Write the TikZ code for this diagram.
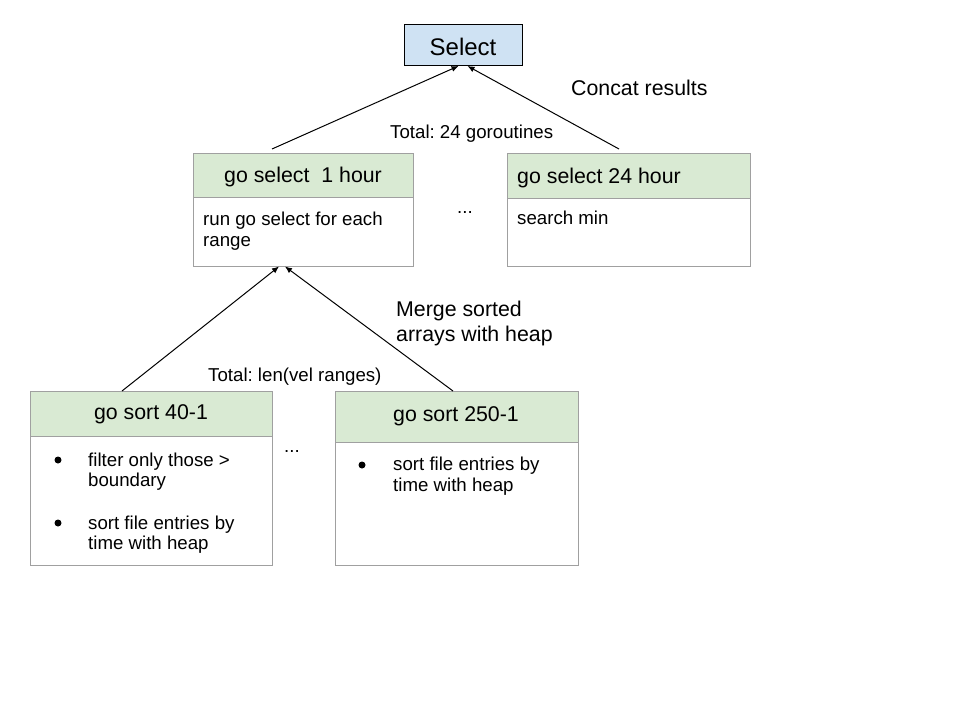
\documentclass[tikz,border=0pt]{standalone}
\usepackage{fontspec}
\setmainfont{Liberation Sans}
\usetikzlibrary{arrows.meta,calc}
\definecolor{hdrgreen}{HTML}{D9EAD3}
\definecolor{selblue}{HTML}{CFE2F3}
\definecolor{boxgray}{HTML}{A0A0A0}
\frenchspacing

\begin{document}
\begin{tikzpicture}[x=1pt,y=-1pt,
  box/.style={draw=boxgray, line width=1pt, inner sep=0pt, anchor=north west},
  hdr/.style={box, fill=hdrgreen},
  body/.style={box, fill=white},
  txt/.style={inner sep=0pt, anchor=base west, font=\fontsize{18.67}{21}\selectfont},
  mid/.style={txt, anchor=base},
  ttl/.style={inner sep=0pt, anchor=base, font=\fontsize{21.33}{25}\selectfont},
  ttlw/.style={ttl, anchor=base west},
  dot/.style={circle, fill=black, inner sep=0pt, minimum size=7pt},
  conn/.style={line width=1pt, -{Latex[length=7pt,width=6pt]}}
]
% page frame
\fill[white, use as bounding box] (0,0) rectangle (960,720);

% top: Select
\node[box, draw=black, fill=selblue, minimum width=118pt, minimum height=41pt] (sel) at (404,24) {};
\node[ttl, font=\fontsize{24}{28}\selectfont] (seltxt) at (463,55) {Select};

% first goroutine box
\node[body, minimum width=220pt, minimum height=68.5pt] (s1b) at (193,197) {};
\node[hdr, minimum width=220pt, minimum height=44pt] (s1h) at (193,153) {};
\node[ttl] (s1t) at (303,182) {go select\ \ 1 hour};
\node[txt] (s1l1) at (203,225) {run go select for each};
\node[txt] (s1l2) at (203,246) {range};

% last goroutine box
\node[body, minimum width=243pt, minimum height=68pt] (s2b) at (507,198) {};
\node[hdr, minimum width=243pt, minimum height=45pt] (s2h) at (507,153) {};
\node[ttlw] (s2t) at (517,183) {go select 24 hour};
\node[txt] (s2l1) at (517,224) {search min};

% first sort box
\node[body, minimum width=242pt, minimum height=129pt] (s3b) at (30,436) {};
\node[hdr, minimum width=242pt, minimum height=45pt] (s3h) at (30,391) {};
\node[ttl] (s3t) at (151,419) {go sort 40-1};
\node[dot] (s3d1) at (58,460) {};
\node[txt] (s3l1) at (88,466) {filter only those >};
\node[txt] (s3l2) at (88,486) {boundary};
\node[dot] (s3d2) at (58,523) {};
\node[txt] (s3l3) at (88,529) {sort file entries by};
\node[txt] (s3l4) at (88,549) {time with heap};

% last sort box
\node[body, minimum width=243pt, minimum height=123pt] (s4b) at (335,442) {};
\node[hdr, minimum width=243pt, minimum height=51pt] (s4h) at (335,391) {};
\node[ttl] (s4t) at (456,421) {go sort 250-1};
\node[dot] (s4d1) at (362,465) {};
\node[txt] (s4l1) at (393,470) {sort file entries by};
\node[txt] (s4l2) at (393,491) {time with heap};

% labels
\node[ttlw] (concat) at (571,95) {Concat results};
\node[txt] (tot1) at (390,138) {Total: 24 goroutines};
\node[mid] (dots1) at (465,213) {...};
\node[ttlw] (merge1) at (396,316) {Merge sorted};
\node[ttlw] (merge2) at (396,341) {arrays with heap};
\node[txt] (tot2) at (208,381) {Total: len(vel ranges)};
\node[mid] (dots2) at (292,452) {...};

% connectors
\draw[conn] ($(s1h.north west)+(79,-4)$) -- ($(sel.south)+(-5,0)$);
\draw[conn] ($(s2h.north west)+(112,-4)$) -- ($(sel.south)+(4,0)$);
\draw[conn] ($(s3h.north west)+(92,0)$) -- ($(s1b.south west)+(86,0)$);
\draw[conn] ($(s4h.north west)+(118,0)$) -- ($(s1b.south west)+(92,0)$);
\end{tikzpicture}
\end{document}
